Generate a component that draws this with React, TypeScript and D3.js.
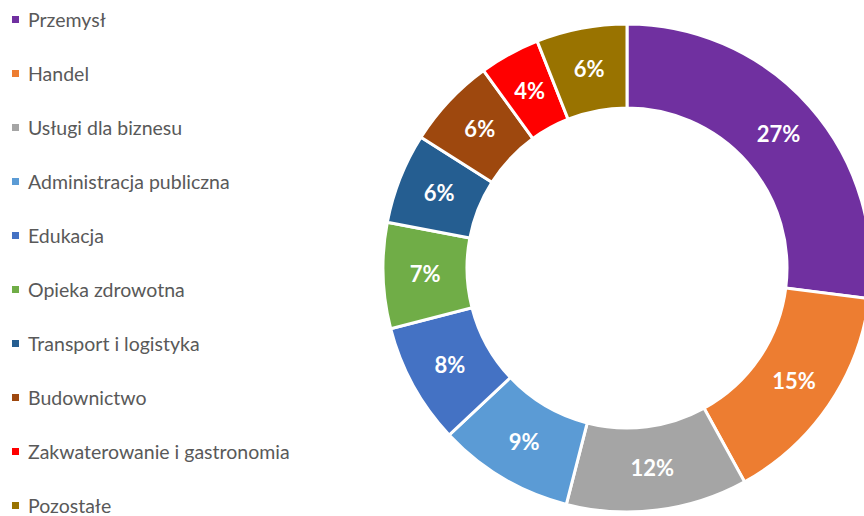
import React from 'react';
import * as d3 from 'd3';

const sectors = [
  'Przemysł',
  'Handel',
  'Usługi dla biznesu',
  'Administracja publiczna',
  'Edukacja',
  'Opieka zdrowotna',
  'Transport i logistyka',
  'Budownictwo',
  'Zakwaterowanie i gastronomia',
  'Pozostałe',
];
const shares = [27, 15, 12, 9, 8, 7, 6, 6, 4, 6];
const colors = [
  '#7030A0', '#ED7D31', '#A5A5A5', '#5B9BD5', '#4472C4',
  '#70AD47', '#255E91', '#9E480E', '#FF0000', '#997300',
];

const W = 864;
const H = 516;

const App: React.FC = () => {
  const cx = 627;
  const cy = 268;
  const outer = 244;
  const inner = 160;

  const data = sectors.map((name, i) => ({ name, value: shares[i] }));
  const pie = d3.pie<{ name: string; value: number }>().sort(null).value(d => d.value);
  const arcs = pie(data);
  const arc = d3.arc<d3.PieArcDatum<{ name: string; value: number }>>()
    .innerRadius(inner)
    .outerRadius(outer);
  const labelArc = d3.arc<d3.PieArcDatum<{ name: string; value: number }>>()
    .innerRadius((inner + outer) / 2)
    .outerRadius((inner + outer) / 2);

  const color = d3.scaleOrdinal<string, string>().domain(sectors).range(colors);

  // legend rows evenly spaced down the left side
  const legendY = d3.scalePoint<string>().domain(sectors).range([20, 506]);

  return (
    <svg width={W} height={H} style={{ position: 'absolute', left: 0, top: 0 }}
      fontFamily="Lato, 'Open Sans', sans-serif">
      <g transform={`translate(${cx},${cy})`}>
        {arcs.map(a => (
          <path key={a.data.name} d={arc(a) || ''} fill={color(a.data.name)}
            stroke="#fff" strokeWidth={3} />
        ))}
        {arcs.map(a => {
          const [x, y] = labelArc.centroid(a);
          return (
            <text key={a.data.name} x={x} y={y} dy="0.35em" textAnchor="middle"
              fill="#fff" fontWeight="bold" fontSize={22}>
              {a.data.value}%
            </text>
          );
        })}
      </g>
      <g>
        {sectors.map(s => (
          <g key={s} transform={`translate(0,${legendY(s)})`}>
            <rect x={12} y={-4} width={7} height={7} fill={color(s)} />
            <text x={28} y={0} dy="0.35em" fontSize={19.5} fill="#595959">{s}</text>
          </g>
        ))}
      </g>
    </svg>
  );
};

export default App;
